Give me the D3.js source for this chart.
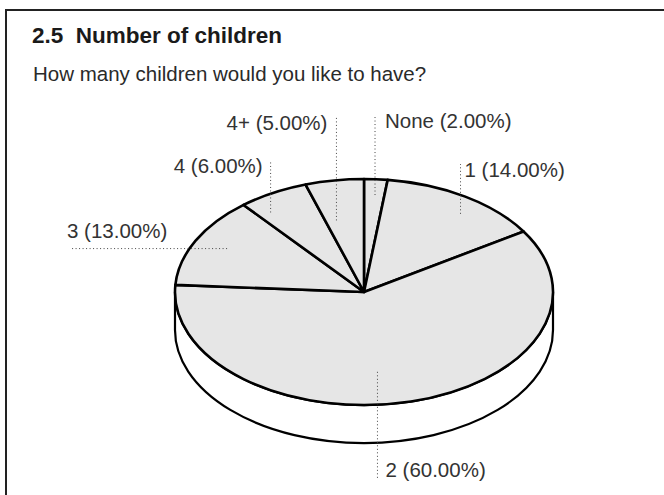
<!DOCTYPE html>
<html>
<head>
<meta charset="utf-8">
<script src="https://cdn.jsdelivr.net/npm/d3@7/dist/d3.min.js"></script>
<style>
  html, body { margin: 0; padding: 0; background: #fff; }
  svg { display: block; }
  text { font-family: "Liberation Sans", Arial, sans-serif; }
</style>
</head>
<body>
<svg id="chart" width="664" height="495"></svg>
<script>
// Survey answers: share of respondents per answer (percent)
const categories = ["None", "1", "2", "3", "4", "4+"];
const shares = [2, 14, 60, 13, 6, 5];

const titleText = "2.5  Number of children";
const subtitleText = "How many children would you like to have?";

// Geometry of the tilted pie
const cx = 364, cy = 292;     // centre of the top face
const rx = 189, ry = 113;     // ellipse radii of the top face
const depth = 38;             // visible thickness of the disc
const squash = ry / rx;

// Label placement: t = position across the slice (0..1), k = radial fraction,
// dir = leader direction, y = label baseline, gap = space between leader and text
const labelLayout = {
  "None": { t: 0.54, k: 0.86, dir: "up",   y: 128, side: "right", gap: 10 },
  "1":    { t: 0.58, k: 0.86, dir: "up",   y: 177, side: "right", gap: 4 },
  "2":    { t: 0.54, k: 0.71, dir: "down", y: 477, side: "right", gap: 8 },
  "3":    { t: 0.52, k: 0.82, dir: "left", x: 70,  side: "left" },
  "4":    { t: 0.21, k: 0.86, dir: "up",   y: 173, side: "left",  gap: 8 },
  "4+":   { t: 0.28, k: 0.65, dir: "up",   y: 130, side: "left",  gap: 9 }
};

const svg = d3.select("#chart");

// Frame
svg.append("rect")
  .attr("x", 6).attr("y", 10)
  .attr("width", 720).attr("height", 600)
  .attr("fill", "none")
  .attr("stroke", "#222")
  .attr("stroke-width", 2);

svg.append("text")
  .attr("x", 32).attr("y", 43)
  .attr("font-size", 22.5)
  .attr("font-weight", "bold")
  .attr("fill", "#1a1a1a")
  .style("white-space", "pre")
  .text(titleText);

svg.append("text")
  .attr("x", 33).attr("y", 81)
  .attr("font-size", 20.5)
  .attr("fill", "#2a2a2a")
  .text(subtitleText);

const pie = d3.pie().sort(null).value(d => d.value);
const arcs = pie(categories.map((c, i) => ({ cat: c, value: shares[i] })));

// Drawn on a circle of radius rx, then squashed vertically into an ellipse
const g = svg.append("g")
  .attr("transform", `translate(${cx},${cy}) scale(1,${squash})`);

const D = depth / squash;   // thickness in unsquashed units
const frontStart = Math.PI / 2, frontEnd = 3 * Math.PI / 2;

// Side walls of the slices that face the viewer
arcs.forEach(a => {
  const a0 = Math.max(a.startAngle, frontStart);
  const a1 = Math.min(a.endAngle, frontEnd);
  if (a1 <= a0) return;
  const p = d3.path();
  p.moveTo(rx * Math.sin(a0), -rx * Math.cos(a0));
  p.arc(0, 0, rx, a0 - Math.PI / 2, a1 - Math.PI / 2);
  p.lineTo(rx * Math.sin(a1), -rx * Math.cos(a1) + D);
  p.arc(0, D, rx, a1 - Math.PI / 2, a0 - Math.PI / 2, true);
  p.closePath();
  g.append("path")
    .attr("d", p.toString())
    .attr("fill", "#fff")
    .attr("stroke", "#000")
    .attr("stroke-width", 2.2)
    .attr("stroke-linejoin", "round")
    .attr("vector-effect", "non-scaling-stroke");
});

// Top faces
const arc = d3.arc().innerRadius(0).outerRadius(rx);
g.selectAll("path.slice")
  .data(arcs)
  .join("path")
  .attr("class", "slice")
  .attr("d", arc)
  .attr("fill", "#e6e6e6")
  .attr("stroke", "#000")
  .attr("stroke-width", 2.6)
  .attr("stroke-linejoin", "round")
  .attr("vector-effect", "non-scaling-stroke");

// Labels with dotted leaders
const labels = svg.append("g");
arcs.forEach(a => {
  const L = labelLayout[a.data.cat];
  const ang = a.startAngle + (a.endAngle - a.startAngle) * L.t;
  const ax = cx + rx * L.k * Math.sin(ang);
  const ay = cy - ry * L.k * Math.cos(ang);
  const txt = `${a.data.cat} (${a.data.value.toFixed(2)}%)`;
  let x1, y1, tx, ty, anchor;
  if (L.dir === "up") {
    x1 = ax; y1 = L.y - 13;
    ty = L.y;
    tx = L.side === "right" ? ax + L.gap : ax - L.gap;
    anchor = L.side === "right" ? "start" : "end";
  } else if (L.dir === "down") {
    x1 = ax; y1 = L.y + 3;
    ty = L.y;
    tx = ax + L.gap;
    anchor = "start";
  } else {
    x1 = L.x; y1 = ay;
    tx = L.x - 3; ty = ay - 11;
    anchor = "start";
  }
  labels.append("line")
    .attr("x1", ax).attr("y1", ay)
    .attr("x2", x1).attr("y2", y1)
    .attr("stroke", "#444")
    .attr("stroke-width", 1)
    .attr("stroke-dasharray", "1 2.5");
  labels.append("text")
    .attr("x", tx).attr("y", ty)
    .attr("text-anchor", anchor)
    .attr("font-size", 20.5)
    .attr("fill", "#333")
    .text(txt);
});
</script>
</body>
</html>
